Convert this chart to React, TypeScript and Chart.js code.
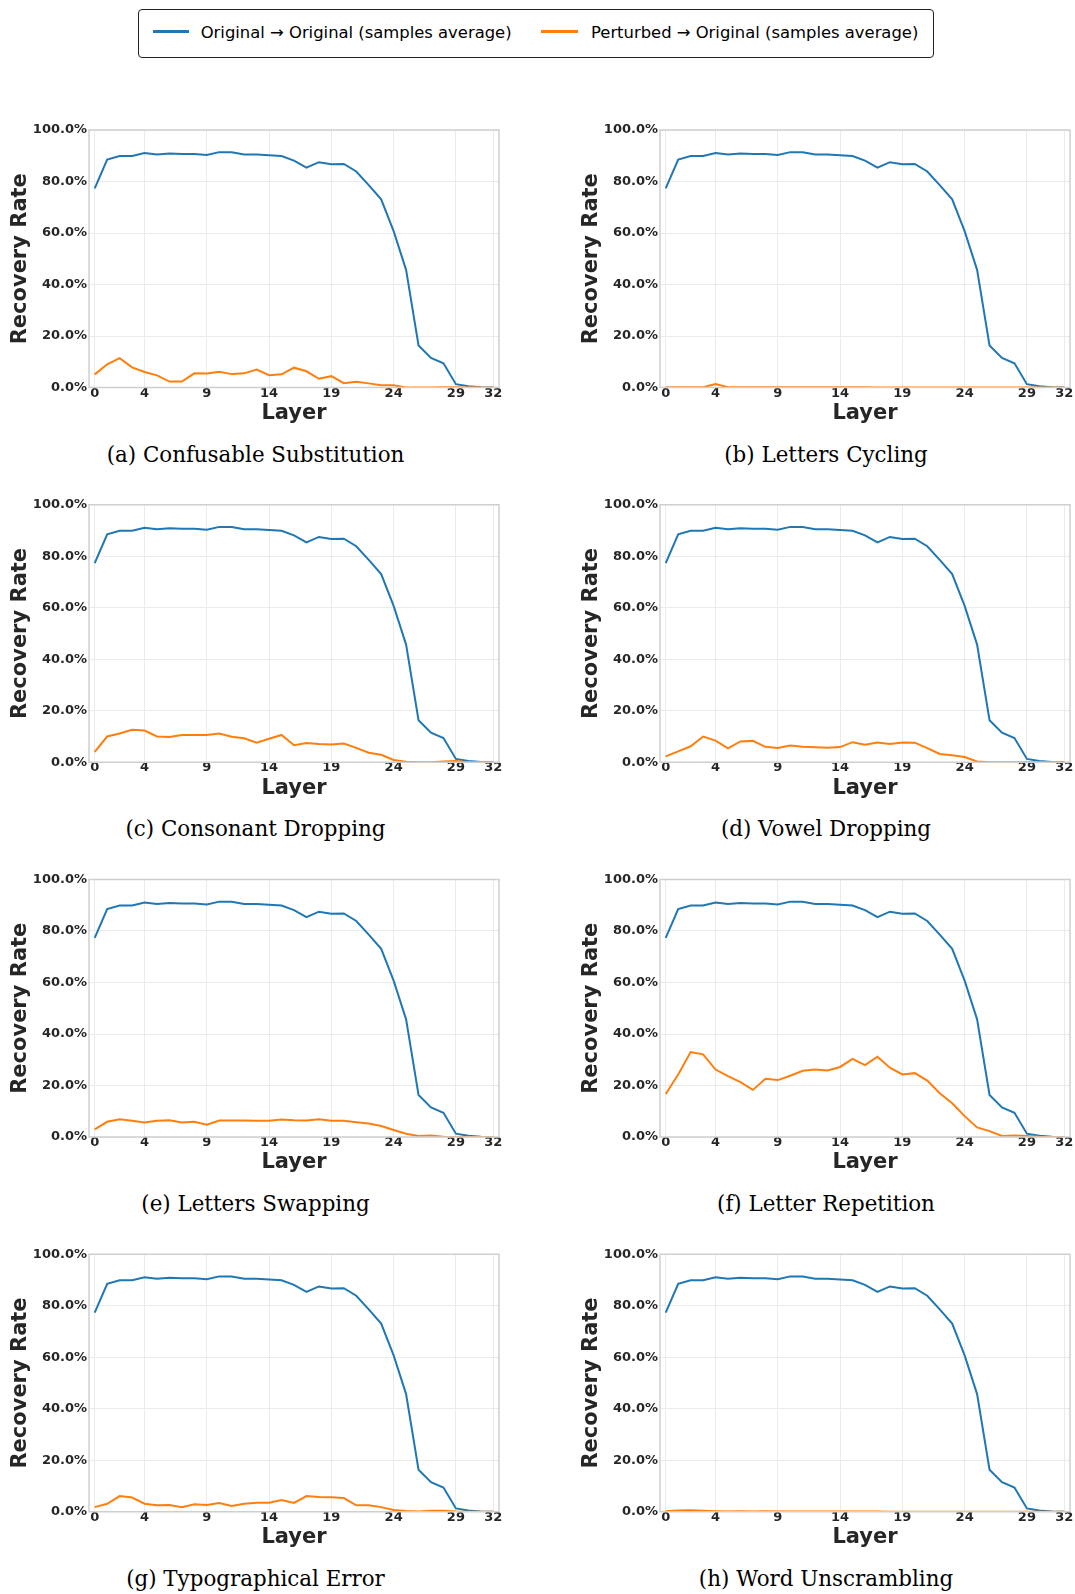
import React, { useEffect, useRef } from 'react';
import { Chart, registerables } from 'chart.js';

Chart.register(...registerables);

// ---------------- data ----------------
const LAYERS = [0, 1, 2, 3, 4, 5, 6, 7, 8, 9, 10, 11, 12, 13, 14, 15, 16, 17, 18, 19, 20, 21, 22, 23, 24, 25, 26, 27, 28, 29, 30, 31, 32];
const X_TICKS = [0, 4, 9, 14, 19, 24, 29, 32];
const Y_TICKS = [0, 20, 40, 60, 80, 100];

const LEGEND_LABELS = ['Original \u2192 Original (samples average)', 'Perturbed \u2192 Original (samples average)'];

const ORIGINAL = [77.3, 88.5, 89.9, 89.9, 91.1, 90.5, 90.9, 90.7, 90.7, 90.3, 91.4, 91.4, 90.5, 90.5, 90.2, 89.9, 88.1, 85.4, 87.5, 86.7, 86.8, 83.9, 78.6, 73.1, 60.7, 45.7, 16.3, 11.5, 9.4, 1.3, 0.5, 0.1, 0];

const PERTURBED_A = [5.1, 9.0, 11.4, 7.8, 6.0, 4.7, 2.3, 2.3, 5.5, 5.4, 6.1, 5.2, 5.5, 7.0, 4.8, 5.1, 7.7, 6.3, 3.4, 4.4, 1.7, 2.2, 1.6, 0.9, 0.9, 0, 0, 0, 0.1, 0.1, 0, 0, 0];
const PERTURBED_B = [0.1, 0.1, 0.1, 0.1, 1.3, 0.1, 0.1, 0.1, 0.1, 0.1, 0.1, 0.1, 0.1, 0.1, 0.1, 0.1, 0.1, 0, 0, 0, 0, 0, 0, 0, 0, 0, 0, 0, 0, 0, 0, 0, 0];
const PERTURBED_C = [4.0, 10.0, 11.2, 12.6, 12.3, 10.0, 9.8, 10.6, 10.6, 10.6, 11.2, 9.9, 9.3, 7.6, 9.1, 10.6, 6.6, 7.5, 7.1, 6.9, 7.3, 5.6, 3.7, 2.9, 0.9, 0.2, 0, 0, 0.3, 0.5, 0, 0, 0];
const PERTURBED_D = [2.3, 4.2, 6.2, 10.0, 8.4, 5.4, 8.1, 8.3, 6.0, 5.5, 6.5, 6.0, 5.8, 5.6, 5.9, 7.8, 6.8, 7.7, 7.1, 7.7, 7.6, 5.5, 3.2, 2.7, 2.0, 0.3, 0, 0, 0, 0, 0, 0, 0];
const PERTURBED_E = [3.0, 5.9, 6.9, 6.3, 5.6, 6.3, 6.5, 5.6, 5.9, 4.8, 6.4, 6.4, 6.4, 6.3, 6.3, 6.8, 6.5, 6.4, 6.9, 6.3, 6.3, 5.7, 5.2, 4.3, 2.7, 1.3, 0.4, 0.6, 0.1, 0, 0, 0, 0];
const PERTURBED_F = [16.7, 24.3, 33.0, 32.1, 26.2, 23.6, 21.3, 18.3, 22.6, 22.1, 23.8, 25.7, 26.2, 25.8, 27.2, 30.3, 27.9, 31.2, 26.9, 24.3, 24.8, 21.9, 17.0, 13.1, 8.1, 3.7, 2.3, 0.4, 0.6, 0.4, 0.1, 0, 0];
const PERTURBED_G = [1.8, 3.1, 6.1, 5.5, 3.1, 2.5, 2.6, 1.8, 2.9, 2.6, 3.4, 2.2, 3.1, 3.5, 3.5, 4.6, 3.4, 6.1, 5.7, 5.6, 5.3, 2.5, 2.5, 1.8, 0.7, 0.3, 0.1, 0.4, 0.4, 0.1, 0, 0, 0];
const PERTURBED_H = [0.2, 0.5, 0.6, 0.4, 0.2, 0.1, 0.2, 0.1, 0.2, 0.1, 0.1, 0.1, 0.1, 0.1, 0.1, 0.1, 0.1, 0.1, 0, 0, 0, 0, 0, 0, 0, 0, 0, 0, 0, 0, 0, 0, 0];

const CAPTIONS = [
  '(a) Confusable Substitution',
  '(b) Letters Cycling',
  '(c) Consonant Dropping',
  '(d) Vowel Dropping',
  '(e) Letters Swapping',
  '(f) Letter Repetition',
  '(g) Typographical Error',
  '(h) Word Unscrambling',
];
const PERTURBED_SERIES = [PERTURBED_A, PERTURBED_B, PERTURBED_C, PERTURBED_D, PERTURBED_E, PERTURBED_F, PERTURBED_G, PERTURBED_H];

const X_TITLE = 'Layer';
const Y_TITLE = 'Recovery Rate';

// ---------------- styling / layout ----------------
const BLUE = '#1f77b4';
const ORANGE = '#ff7f0e';
const GRID = '#ebebeb';
const FRAME = '#cfcfcf';
const TEXT = '#262626';
const SANS = "'DejaVu Sans', sans-serif";
const SERIF = "'DejaVu Serif', serif";

const PLOT_TOP0 = 130;
const ROW_PITCH = 374.75;
const PLOT_H = 257.5;
const PLOT_W = 410;
const COL_PLOT_LEFT = [89, 660];
const COL_CENTER = [255.5, 826];
const AXIS_W = 89;
const XAXIS_H = 35.5;

const framePlugin = {
  id: 'frame',
  afterDatasetsDraw(chart: any) {
    const { ctx, chartArea: a } = chart;
    ctx.save();
    ctx.strokeStyle = FRAME;
    ctx.lineWidth = 1.5;
    ctx.strokeRect(a.left, a.top, a.right - a.left, a.bottom - a.top);
    ctx.restore();
  },
};

function Panel({ idx }: { idx: number }) {
  const ref = useRef<HTMLCanvasElement | null>(null);
  const col = idx % 2;
  const row = Math.floor(idx / 2);
  const plotTop = PLOT_TOP0 + row * ROW_PITCH;
  const canvasTop = Math.floor(plotTop - 20);
  const padTop = plotTop - canvasTop;
  const canvasLeft = COL_PLOT_LEFT[col] - AXIS_W;
  const canvasW = col === 0 ? 540 : 1075 - canvasLeft;
  const canvasH = Math.ceil(padTop + PLOT_H + XAXIS_H);
  const padBottom = canvasH - (padTop + PLOT_H + XAXIS_H);
  const padRight = canvasW - AXIS_W - PLOT_W;

  useEffect(() => {
    if (!ref.current) return;
    const perturbed = PERTURBED_SERIES[idx];
    const tickFont = { family: SANS, size: 13, weight: 'bold' as const };
    const titleFont = { family: SANS, size: 21, weight: 'bold' as const };
    const chart = new Chart(ref.current, {
      type: 'line',
      data: {
        datasets: [
          {
            label: LEGEND_LABELS[0],
            data: LAYERS.map((l, i) => ({ x: l, y: ORIGINAL[i] })),
            borderColor: BLUE,
            backgroundColor: BLUE,
            borderWidth: 2,
            pointRadius: 0,
            tension: 0,
            order: 1,
            clip: 0 as any,
          },
          {
            label: LEGEND_LABELS[1],
            data: LAYERS.map((l, i) => ({ x: l, y: perturbed[i] })),
            borderColor: ORANGE,
            backgroundColor: ORANGE,
            borderWidth: 2,
            pointRadius: 0,
            tension: 0,
            order: 0,
            clip: 0 as any,
          },
        ],
      },
      options: {
        responsive: false,
        animation: false,
        devicePixelRatio: 1,
        layout: { padding: { left: 0, top: padTop, right: padRight, bottom: padBottom } },
        plugins: { legend: { display: false }, tooltip: { enabled: false } },
        scales: {
          x: {
            type: 'linear',
            min: -0.46,
            max: 32.46,
            afterBuildTicks: (s: any) => {
              s.ticks = X_TICKS.map((v) => ({ value: v }));
            },
            afterFit: (s: any) => {
              s.height = XAXIS_H;
              s.paddingLeft = 0;
              s.paddingRight = 0;
            },
            ticks: {
              font: tickFont,
              color: TEXT,
              padding: -2,
              maxRotation: 0,
              autoSkip: false,
              callback: (v: any) => String(v),
            },
            grid: { color: GRID, lineWidth: 1, drawTicks: false },
            border: { display: false },
            title: { display: true, text: X_TITLE, font: titleFont, color: TEXT, padding: { top: 0, bottom: -3 } },
          },
          y: {
            type: 'linear',
            min: 0,
            max: 100,
            afterBuildTicks: (s: any) => {
              s.ticks = Y_TICKS.map((v) => ({ value: v }));
            },
            afterFit: (s: any) => {
              s.width = AXIS_W;
              s.paddingTop = 0;
              s.paddingBottom = 0;
            },
            ticks: {
              font: tickFont,
              color: TEXT,
              padding: 2,
              callback: (v: any) => Number(v).toFixed(1) + '%',
            },
            grid: { color: GRID, lineWidth: 1, drawTicks: false },
            border: { display: false },
            title: { display: true, text: Y_TITLE, font: titleFont, color: TEXT, padding: { top: 7.5, bottom: 0 } },
          },
        },
      } as any,
      plugins: [framePlugin],
    });
    return () => chart.destroy();
  }, [idx]);

  const captionTop = 443.5 + row * ROW_PITCH;

  return (
    <>
      <canvas
        ref={ref}
        width={canvasW}
        height={canvasH}
        style={{ position: 'absolute', left: canvasLeft, top: canvasTop, width: canvasW, height: canvasH }}
      />
      <div
        style={{
          position: 'absolute',
          left: COL_CENTER[col] - 270,
          width: 540,
          top: captionTop,
          textAlign: 'center',
          fontFamily: SERIF,
          fontSize: 21.4,
          lineHeight: '22px',
          color: '#000',
          whiteSpace: 'nowrap',
        }}
      >
        {CAPTIONS[idx]}
      </div>
    </>
  );
}

function Legend() {
  const itemText: React.CSSProperties = {
    position: 'absolute',
    top: 12.6,
    fontFamily: SANS,
    fontSize: 16.4,
    lineHeight: '20px',
    color: '#000',
    whiteSpace: 'nowrap',
  };
  const swatch: React.CSSProperties = { position: 'absolute', top: 19.5, width: 36.6, height: 3 };
  return (
    <div
      style={{
        position: 'absolute',
        left: 138,
        top: 9,
        width: 796,
        height: 48.5,
        boxSizing: 'border-box',
        border: '1px solid #222',
        borderRadius: 4,
        background: '#fff',
      }}
    >
      <div style={{ ...swatch, left: 13.7, background: BLUE }} />
      <div style={{ ...itemText, left: 61.7 }}>{LEGEND_LABELS[0]}</div>
      <div style={{ ...swatch, left: 402, background: ORANGE }} />
      <div style={{ ...itemText, left: 452 }}>{LEGEND_LABELS[1]}</div>
    </div>
  );
}

export default function App() {
  return (
    <div
      style={{
        position: 'absolute',
        left: 0,
        top: 0,
        width: 1075,
        height: 1594,
        overflow: 'hidden',
        background: '#fff',
      }}
    >
      <Legend />
      {CAPTIONS.map((_, i) => (
        <Panel key={i} idx={i} />
      ))}
    </div>
  );
}
